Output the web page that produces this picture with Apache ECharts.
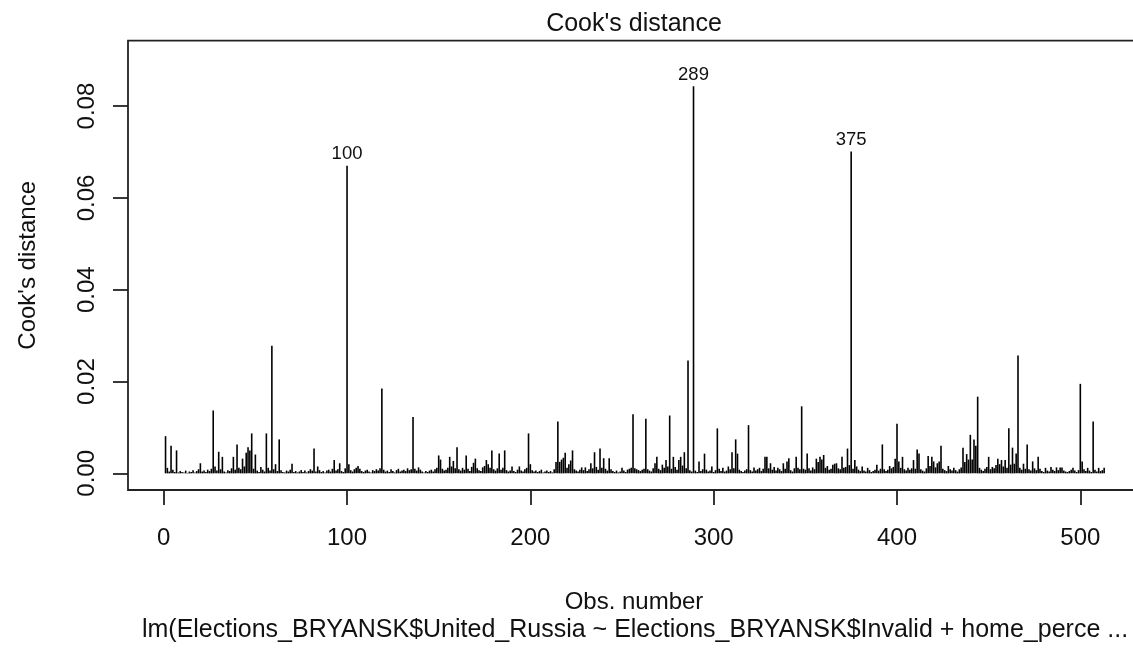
<!DOCTYPE html>
<html>
<head>
<meta charset="utf-8">
<script src="https://cdn.jsdelivr.net/npm/echarts@6/dist/echarts.min.js"></script>
<style>
html,body{margin:0;padding:0;background:#fff;overflow:hidden;}
#chart{width:1133px;height:649px;}
</style>
</head>
<body>
<div id="chart"></div>
<script>
const cookDistance = [
  0.0081,0.0012,0.0004,0.0060,0.0008,0.0003,0.0050,0.0002,0.0005,0.0003,
  0.0002,0.0006,0.0001,0.0004,0.0003,0.0007,0.0002,0.0005,0.0009,0.0022,
  0.0004,0.0006,0.0003,0.0008,0.0005,0.0010,0.0137,0.0015,0.0006,0.0047,
  0.0009,0.0036,0.0004,0.0002,0.0007,0.0005,0.0011,0.0036,0.0008,0.0063,
  0.0012,0.0009,0.0032,0.0015,0.0045,0.0057,0.0050,0.0087,0.0010,0.0041,
  0.0006,0.0003,0.0014,0.0008,0.0004,0.0087,0.0012,0.0006,0.0278,0.0009,
  0.0020,0.0005,0.0074,0.0007,0.0003,0.0002,0.0006,0.0004,0.0008,0.0021,
  0.0003,0.0005,0.0002,0.0004,0.0007,0.0003,0.0006,0.0002,0.0005,0.0009,
  0.0006,0.0054,0.0004,0.0015,0.0007,0.0003,0.0005,0.0002,0.0006,0.0008,
  0.0004,0.0010,0.0029,0.0006,0.0009,0.0022,0.0005,0.0003,0.0011,0.0670,
  0.0020,0.0007,0.0004,0.0009,0.0012,0.0016,0.0010,0.0005,0.0003,0.0006,
  0.0008,0.0004,0.0002,0.0007,0.0005,0.0009,0.0006,0.0011,0.0185,0.0008,
  0.0004,0.0006,0.0003,0.0009,0.0005,0.0002,0.0007,0.0010,0.0004,0.0006,
  0.0008,0.0005,0.0011,0.0007,0.0009,0.0123,0.0010,0.0006,0.0013,0.0008,
  0.0004,0.0002,0.0005,0.0003,0.0006,0.0008,0.0004,0.0009,0.0012,0.0039,
  0.0030,0.0010,0.0006,0.0008,0.0012,0.0036,0.0015,0.0027,0.0011,0.0057,
  0.0009,0.0006,0.0012,0.0008,0.0039,0.0010,0.0005,0.0014,0.0023,0.0032,
  0.0011,0.0007,0.0005,0.0013,0.0016,0.0029,0.0020,0.0012,0.0050,0.0009,
  0.0006,0.0011,0.0043,0.0008,0.0012,0.0050,0.0007,0.0004,0.0006,0.0015,
  0.0005,0.0003,0.0008,0.0015,0.0006,0.0004,0.0009,0.0012,0.0087,0.0020,
  0.0007,0.0004,0.0006,0.0003,0.0005,0.0008,0.0002,0.0004,0.0006,0.0003,
  0.0005,0.0002,0.0009,0.0025,0.0113,0.0025,0.0030,0.0034,0.0045,0.0012,
  0.0020,0.0028,0.0050,0.0009,0.0006,0.0004,0.0008,0.0013,0.0007,0.0013,
  0.0005,0.0009,0.0022,0.0011,0.0046,0.0014,0.0008,0.0054,0.0012,0.0033,
  0.0010,0.0006,0.0033,0.0009,0.0005,0.0003,0.0006,0.0002,0.0004,0.0012,
  0.0006,0.0003,0.0008,0.0010,0.0012,0.0129,0.0011,0.0009,0.0007,0.0005,
  0.0008,0.0010,0.0119,0.0009,0.0006,0.0004,0.0011,0.0022,0.0036,0.0010,
  0.0007,0.0019,0.0012,0.0029,0.0015,0.0126,0.0010,0.0036,0.0014,0.0008,
  0.0029,0.0036,0.0017,0.0046,0.0011,0.0246,0.0007,0.0004,0.0843,0.0006,
  0.0003,0.0026,0.0005,0.0009,0.0043,0.0008,0.0004,0.0006,0.0015,0.0003,
  0.0007,0.0098,0.0010,0.0005,0.0012,0.0004,0.0006,0.0015,0.0009,0.0046,
  0.0011,0.0074,0.0043,0.0008,0.0005,0.0003,0.0006,0.0009,0.0105,0.0007,
  0.0004,0.0013,0.0006,0.0009,0.0012,0.0005,0.0010,0.0036,0.0036,0.0011,
  0.0022,0.0008,0.0014,0.0006,0.0012,0.0009,0.0005,0.0022,0.0010,0.0026,
  0.0033,0.0007,0.0004,0.0011,0.0036,0.0012,0.0009,0.0146,0.0010,0.0008,
  0.0043,0.0011,0.0006,0.0013,0.0009,0.0032,0.0025,0.0036,0.0030,0.0040,
  0.0012,0.0016,0.0008,0.0010,0.0019,0.0021,0.0022,0.0011,0.0009,0.0036,
  0.0012,0.0014,0.0054,0.0018,0.0701,0.0010,0.0029,0.0015,0.0008,0.0005,
  0.0015,0.0006,0.0004,0.0012,0.0007,0.0003,0.0005,0.0008,0.0019,0.0006,
  0.0010,0.0063,0.0009,0.0005,0.0008,0.0016,0.0011,0.0014,0.0032,0.0108,
  0.0026,0.0012,0.0036,0.0009,0.0006,0.0012,0.0008,0.0011,0.0029,0.0010,
  0.0052,0.0043,0.0009,0.0006,0.0004,0.0011,0.0038,0.0016,0.0036,0.0026,
  0.0013,0.0022,0.0026,0.0060,0.0010,0.0007,0.0005,0.0016,0.0009,0.0006,
  0.0012,0.0007,0.0004,0.0009,0.0013,0.0056,0.0025,0.0042,0.0030,0.0084,
  0.0030,0.0074,0.0060,0.0167,0.0012,0.0008,0.0005,0.0010,0.0014,0.0036,
  0.0009,0.0014,0.0011,0.0018,0.0032,0.0020,0.0029,0.0015,0.0029,0.0012,
  0.0098,0.0019,0.0056,0.0021,0.0043,0.0257,0.0012,0.0008,0.0021,0.0010,
  0.0063,0.0009,0.0006,0.0026,0.0011,0.0007,0.0036,0.0010,0.0005,0.0003,
  0.0012,0.0006,0.0004,0.0014,0.0008,0.0005,0.0013,0.0007,0.0013,0.0013,
  0.0006,0.0004,0.0003,0.0005,0.0008,0.0012,0.0006,0.0003,0.0007,0.0195,
  0.0026,0.0009,0.0005,0.0012,0.0006,0.0003,0.0113,0.0008,0.0004,0.0012,
  0.0005,0.0007,0.0012
];
const labeledObs = [100, 289, 375];
const xTicks = [0, 100, 200, 300, 400, 500];
const yTicks = [0, 0.02, 0.04, 0.06, 0.08];
const titleText = "Cook's distance";
const xLabel = "Obs. number";
const yLabel = "Cook's distance";
const subCaption = "lm(Elections_BRYANSK$United_Russia ~ Elections_BRYANSK$Invalid + home_perce ...";

const obsData = cookDistance.map((v, i) => [i + 1, v]);
const FONT = '"Liberation Sans", Arial, sans-serif';
const TXT = '#111';

const chart = echarts.init(document.getElementById('chart'), null, {renderer: 'canvas'});
chart.setOption({
  animation: false,
  backgroundColor: '#fff',
  title: [
    {text: titleText, left: 629, top: 7, textAlign: 'center',
     textStyle: {fontFamily: FONT, fontSize: 25, fontWeight: 'normal', color: TXT}},
    {text: xLabel, left: 629, top: 585, textAlign: 'center',
     textStyle: {fontFamily: FONT, fontSize: 24, fontWeight: 'normal', color: TXT}},
    {text: subCaption, left: 630, top: 613, textAlign: 'center',
     textStyle: {fontFamily: FONT, fontSize: 25, fontWeight: 'normal', color: TXT}}
  ],
  grid: {left: 128, top: 40.7, width: 1013.7, height: 449.3, show: true,
         outerBoundsMode: 'none', containLabel: false,
         borderColor: '#222', borderWidth: 1.8, backgroundColor: 'transparent'},
  xAxis: {
    type: 'value', min: -19.48, max: 533.48,
    axisLine: {show: false, onZero: false},
    axisTick: {show: true, length: 15, customValues: xTicks, lineStyle: {color: '#222', width: 1.8}},
    axisLabel: {customValues: xTicks, margin: 36, fontFamily: FONT, fontSize: 24, color: TXT},
    splitLine: {show: false}
  },
  yAxis: {
    type: 'value', min: -0.003625, max: 0.094245,
    name: yLabel, nameLocation: 'middle', nameGap: 88, nameRotate: 90,
    nameTextStyle: {fontFamily: FONT, fontSize: 24, color: TXT},
    axisLine: {show: false, onZero: false},
    axisTick: {show: true, length: 15, customValues: yTicks, lineStyle: {color: '#222', width: 1.8}},
    axisLabel: {customValues: yTicks, rotate: 90, margin: 29, fontFamily: FONT, fontSize: 24, color: TXT,
                formatter: v => v.toFixed(2)},
    splitLine: {show: false}
  },
  series: [{
    type: 'custom',
    data: obsData,
    clip: false,
    renderItem: function (params, api) {
      const x = api.value(0), v = api.value(1);
      const p0 = api.coord([x, 0]);
      const p1 = api.coord([x, v]);
      const children = [{
        type: 'line',
        shape: {x1: p0[0], y1: p0[1], x2: p1[0], y2: p1[1]},
        style: {stroke: '#000', lineWidth: 1.6}
      }];
      if (labeledObs.indexOf(x) >= 0) {
        children.push({
          type: 'text',
          style: {text: String(x), x: p1[0], y: p1[1] - 2, align: 'center', verticalAlign: 'bottom',
                  font: '18.5px ' + FONT, fill: TXT}
        });
      }
      return {type: 'group', children: children};
    }
  }]
});
</script>
</body>
</html>
